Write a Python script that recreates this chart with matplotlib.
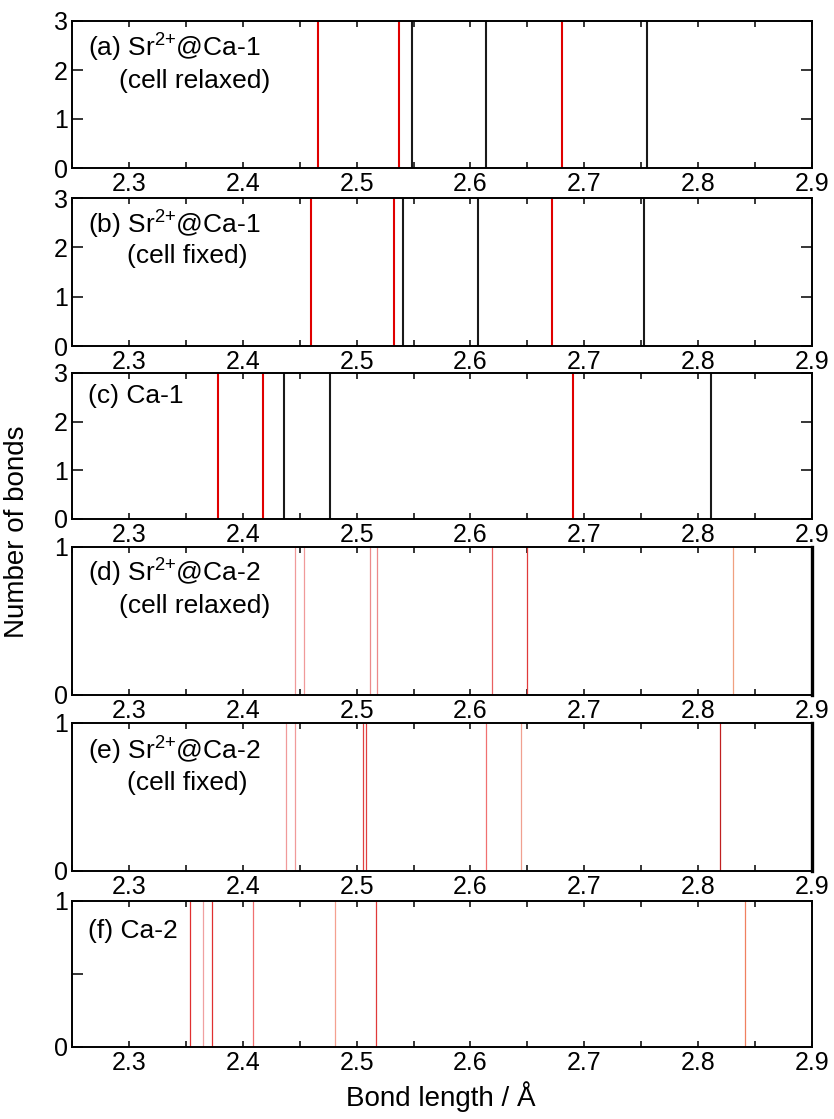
import matplotlib
matplotlib.use("Agg")
import matplotlib.pyplot as plt
from matplotlib.ticker import MultipleLocator, FixedLocator

plt.rcParams['font.family'] = ['Liberation Sans', 'DejaVu Sans']
plt.rcParams['mathtext.default'] = 'regular'

# --- bond lengths (Angstrom) ---
a_red = [2.466, 2.537, 2.680]
a_black = [2.549, 2.614, 2.755]
b_red = [2.460, 2.533, 2.672]
b_black = [2.541, 2.607, 2.752]
c_red = [2.378, 2.418, 2.690]
c_black = [2.436, 2.477, 2.811]
d_bonds = [2.446, 2.454, 2.512, 2.518, 2.619, 2.650, 2.831]
e_bonds = [2.438, 2.446, 2.506, 2.508, 2.614, 2.644, 2.819]
f_bonds = [2.354, 2.365, 2.373, 2.409, 2.481, 2.517, 2.841]

# number of bonds per line
count_ca1 = 3
count_ca2 = 1

labels_top = ["(a) Sr$^{2{+}}$@Ca-1", "(b) Sr$^{2{+}}$@Ca-1", "(c) Ca-1",
              "(d) Sr$^{2{+}}$@Ca-2", "(e) Sr$^{2{+}}$@Ca-2", "(f) Ca-2"]
labels_sub = ["(cell relaxed)", "(cell fixed)", "",
              "(cell relaxed)", "(cell fixed)", ""]

# line shades for the thin lines of panels d-f
d_colors = ['#f09a9a', '#f09a9a', '#ec8a8a', '#ec8a8a', '#e86060', '#e03a3a', '#f0a080']
e_colors = ['#f09a9a', '#f09a9a', '#e04040', '#e04040', '#f07070', '#f0a090', '#c02020']
f_colors = ['#e03030', '#f0a0a0', '#e03030', '#f07070', '#f4a090', '#e03a3a', '#f08060']

fig = plt.figure(figsize=(8.34, 11.19), dpi=100)

# axes boxes in figure pixels (top, bottom)
boxes = [(21, 168), (198, 346), (373, 519), (547, 695), (723, 871), (901, 1047)]
H = 1119.0
axes = []
for top, bot in boxes:
    ax = fig.add_axes([72 / 834, 1 - bot / H, 740 / 834, (bot - top) / H])
    axes.append(ax)

# panels a-c: thick red and black lines
for ax, red, black in zip(axes[:3], [a_red, b_red, c_red], [a_black, b_black, c_black]):
    ax.vlines(red, 0, count_ca1, color='#e00000', lw=1.5)
    ax.vlines(black, 0, count_ca1, color='#1a1a1a', lw=1.5)
    ax.set_ylim(0, 3)
    ax.yaxis.set_major_locator(MultipleLocator(1))

# panels d-f: thin red lines
for ax, bonds, cols in zip(axes[3:], [d_bonds, e_bonds, f_bonds], [d_colors, e_colors, f_colors]):
    for x, c in zip(bonds, cols):
        ax.vlines(x, 0, count_ca2, color=c, lw=0.9)
    ax.set_ylim(0, 1)
    ax.yaxis.set_major_locator(FixedLocator([0, 1]))

axes[5].yaxis.set_major_locator(FixedLocator([0, 0.5, 1]))
axes[5].set_yticklabels(['0', '', '1'])

text_pos = [(0.757, 0.544), (0.761, 0.559), (0.792, 0), (0.766, 0.552), (0.755, 0.547), (0.745, 0)]
sub_x = [0.0635, 0.074, 0, 0.0635, 0.074, 0]

for i, ax in enumerate(axes):
    ax.set_xlim(2.25, 2.9)
    ax.xaxis.set_major_locator(MultipleLocator(0.1))
    ax.xaxis.set_minor_locator(MultipleLocator(0.05))
    ax.tick_params(axis='x', which='both', direction='in', top=True, bottom=True,
                   length=4, width=1.1, labelsize=18, pad=3)
    right = i < 3
    ax.tick_params(axis='y', which='both', direction='in', left=True, right=right,
                   length=8, width=1.1, labelsize=18, pad=3)
    for s in ax.spines.values():
        s.set_linewidth(1.4)
    if i in (3, 4):
        ax.spines['right'].set_linewidth(2.4)
    y1, y2 = text_pos[i]
    ax.text(0.022, y1, labels_top[i], transform=ax.transAxes, fontsize=19, va='baseline')
    if labels_sub[i]:
        ax.text(sub_x[i], y2, labels_sub[i], transform=ax.transAxes, fontsize=19, va='baseline')

fig.text(0.02, 1 - 532 / H, "Number of bonds", rotation=90, fontsize=20, ha='center', va='center')
fig.text(0.528, 1 - 1097 / H, "Bond length / Å", fontsize=20, ha='center', va='center')

fig.savefig("out.png", dpi=100)
